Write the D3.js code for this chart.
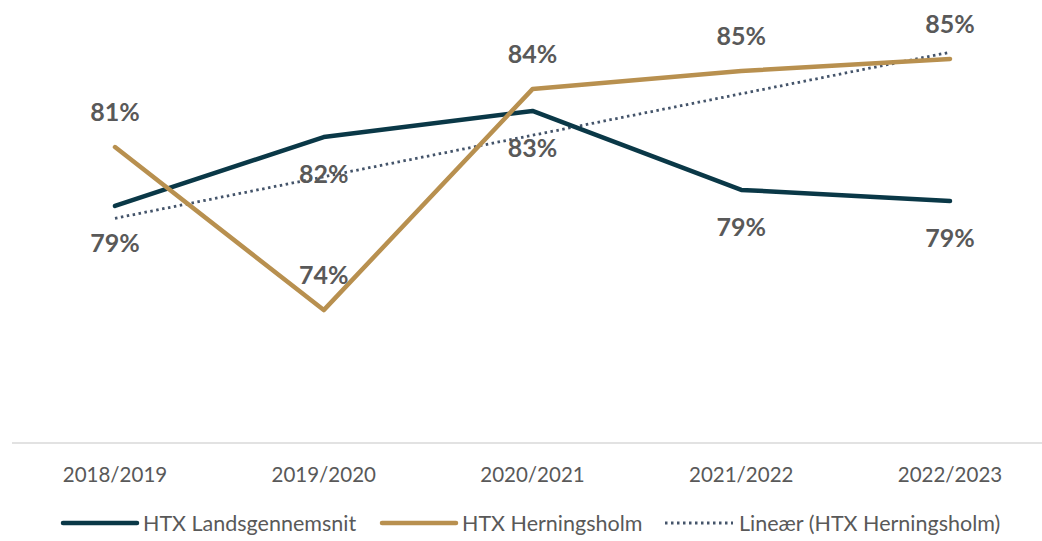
<!DOCTYPE html>
<html>
<head>
<meta charset="utf-8">
<script src="https://cdn.jsdelivr.net/npm/d3@7"></script>
<style>
  body { margin: 0; background: #fff; }
  text { font-family: Lato, "Open Sans", sans-serif; fill: #595959; }
</style>
</head>
<body>
<div id="chart_container"></div>
<script>
// data
let years = ["2018/2019", "2019/2020", "2020/2021", "2021/2022", "2022/2023"];
let landsgennemsnit = [0.7863, 0.8172, 0.8289, 0.7935, 0.7885];
let herningsholm = [0.8127, 0.7396, 0.8387, 0.8468, 0.8522];
let seriesNames = ["HTX Landsgennemsnit", "HTX Herningsholm", "Lineær (HTX Herningsholm)"];

let svgWidth = 1042;
let svgHeight = 541;
let darkColor = "#0a3847";
let goldColor = "#b8904f";
let trendColor = "#44546a";

let svg = d3.select("#chart_container")
  .append("svg")
  .attr("width", svgWidth)
  .attr("height", svgHeight);

let xScale = d3.scalePoint()
  .domain(years)
  .range([115, 950]);

let yScale = d3.scaleLinear()
  .domain([0.68, 0.88])
  .range([443, -3]);

// category axis: just the baseline and labels
svg.append("line")
  .attr("x1", 12).attr("x2", svgWidth)
  .attr("y1", yScale(0.68)).attr("y2", yScale(0.68))
  .attr("stroke", "#d9d9d9")
  .attr("stroke-width", 1.5);

svg.selectAll(".xlabel")
  .data(years)
  .enter()
  .append("text")
  .attr("class", "xlabel")
  .attr("x", d => xScale(d))
  .attr("y", 482)
  .attr("text-anchor", "middle")
  .attr("font-size", 20.5)
  .text(d => d);

// linear trend of Herningsholm (least squares over category index)
let idx = herningsholm.map((v, i) => i);
let mx = d3.mean(idx);
let my = d3.mean(herningsholm);
let slope = d3.sum(idx, i => (i - mx) * (herningsholm[i] - my)) / d3.sum(idx, i => (i - mx) * (i - mx));
let intercept = my - slope * mx;
let trend = idx.map(i => intercept + slope * i);

let line = d3.line()
  .x((d, i) => xScale(years[i]))
  .y(d => yScale(d));

svg.append("path")
  .datum(trend)
  .attr("d", line)
  .attr("fill", "none")
  .attr("stroke", trendColor)
  .attr("stroke-width", 2.8)
  .attr("stroke-dasharray", "2.5 3.5");

svg.append("path")
  .datum(landsgennemsnit)
  .attr("d", line)
  .attr("fill", "none")
  .attr("stroke", darkColor)
  .attr("stroke-width", 4.5)
  .attr("stroke-linecap", "round")
  .attr("stroke-linejoin", "round");

svg.append("path")
  .datum(herningsholm)
  .attr("d", line)
  .attr("fill", "none")
  .attr("stroke", goldColor)
  .attr("stroke-width", 4.5)
  .attr("stroke-linecap", "round")
  .attr("stroke-linejoin", "round");

let pct = d3.format(".0%");

// gold labels above, dark labels below
svg.selectAll(".goldlabel")
  .data(herningsholm)
  .enter()
  .append("text")
  .attr("x", (d, i) => xScale(years[i]))
  .attr("y", d => yScale(d) - 26)
  .attr("text-anchor", "middle")
  .attr("font-size", 25)
  .attr("font-weight", "bold")
  .text(d => pct(d));

svg.selectAll(".darklabel")
  .data(landsgennemsnit)
  .enter()
  .append("text")
  .attr("x", (d, i) => xScale(years[i]))
  .attr("y", d => yScale(d) + 46)
  .attr("text-anchor", "middle")
  .attr("font-size", 25)
  .attr("font-weight", "bold")
  .text(d => pct(d));

// legend
let legendItems = [
  { name: seriesNames[0], x: 63, color: darkColor, dash: null, width: 4.5, len: 74 },
  { name: seriesNames[1], x: 382, color: goldColor, dash: null, width: 4.5, len: 74 },
  { name: seriesNames[2], x: 665, color: trendColor, dash: "2.5 3.5", width: 2.8, len: 68 }
];

let legend = svg.selectAll(".legend")
  .data(legendItems)
  .enter()
  .append("g")
  .attr("transform", d => "translate(" + d.x + ", 523)");

legend.append("line")
  .attr("x1", 0).attr("x2", d => d.len)
  .attr("y1", 0).attr("y2", 0)
  .attr("stroke", d => d.color)
  .attr("stroke-width", d => d.width)
  .attr("stroke-linecap", d => d.dash ? "butt" : "round")
  .attr("stroke-dasharray", d => d.dash);

legend.append("text")
  .attr("x", d => d.len + 6)
  .attr("y", 7.5)
  .attr("font-size", 21.5)
  .text(d => d.name);
</script>
</body>
</html>
